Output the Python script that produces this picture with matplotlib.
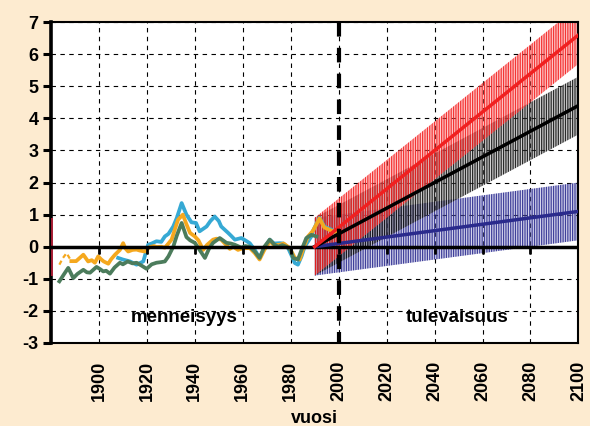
import numpy as np
import matplotlib
matplotlib.use("Agg")
from matplotlib import pyplot as plt

# historical series
orange_dash_years = [1883.5, 1885, 1886.5, 1888.5]
orange_dash_vals = [-0.56, -0.35, -0.2, -0.45]

orange_years = [1888.5, 1890.5, 1892, 1893.5, 1895.5, 1897, 1898.3, 1899.7, 1901, 1902,
                1903.9, 1905, 1906.7, 1908.75, 1910.1, 1911, 1912.2, 1914, 1915.7, 1917,
                1919.2, 1921.25, 1923, 1924, 1926, 1927.5, 1929, 1930.3, 1931.5, 1933,
                1935, 1936.5, 1938, 1940, 1941.5, 1943.5, 1945, 1947.6, 1949, 1951,
                1952.5, 1954.6, 1956, 1958, 1960, 1962.9, 1965, 1967, 1969, 1971.25,
                1973, 1975.4, 1977, 1979.6, 1981.7, 1983.75, 1985.5, 1987.2, 1989.3, 1992,
                1994, 1997, 1999]
orange_vals = [-0.45, -0.45, -0.35, -0.25, -0.46, -0.42, -0.5, -0.3, -0.4, -0.46,
               -0.53, -0.4, -0.25, -0.1, 0.11, -0.05, -0.15, -0.1, -0.09, -0.12,
               -0.15, -0.01, 0.02, -0.01, 0.0, -0.03, 0.1, 0.22, 0.5, 0.84,
               1.0, 0.7, 0.43, 0.32, 0.2, -0.1, 0.05, 0.22, 0.25, 0.22,
               0.1, -0.07, 0.0, -0.1, -0.05, -0.04, -0.2, -0.4, -0.1, 0.17,
               0.05, 0.06, 0.1, -0.04, -0.35, -0.4, 0.0, 0.32, 0.5, 0.88,
               0.6, 0.5, 0.45]

cyan_years = [1908, 1910, 1913, 1915.7, 1918.5, 1920.5, 1922, 1924, 1926, 1927.5,
              1929, 1931, 1932.5, 1934.5, 1936.5, 1938.6, 1940.5, 1942, 1944.9, 1946.5,
              1948.3, 1950, 1951, 1953.9, 1955, 1956.7, 1959.4, 1961, 1962.9, 1965,
              1967, 1969, 1971.25, 1973, 1975.4, 1977, 1978.9, 1980.5, 1981.7, 1983,
              1984.5, 1985.8, 1988.6, 1989.3, 1992, 1994, 1997, 1999]
cyan_vals = [-0.35, -0.4, -0.46, -0.56, -0.46, 0.06, 0.1, 0.17, 0.15, 0.32,
             0.4, 0.63, 0.9, 1.36, 1.0, 0.76, 0.74, 0.48, 0.63, 0.8,
             0.94, 0.8, 0.63, 0.43, 0.35, 0.22, 0.27, 0.2, 0.11, -0.1,
             -0.35, -0.05, 0.22, 0.1, 0.11, 0.1, -0.04, -0.3, -0.51, -0.56,
             -0.3, 0.0, 0.32, 0.5, 0.9, 0.63, 0.53, 0.43]

green_years = [1883.5, 1885.5, 1887.2, 1889.3, 1891, 1893.5, 1895, 1896.3, 1899, 1900.5,
               1901.8, 1903, 1904.6, 1906.5, 1908.75, 1910, 1912, 1914, 1915.7, 1918,
               1919.9, 1922, 1924, 1926, 1927.5, 1929, 1931, 1932.5, 1934.5, 1936.5,
               1938, 1940, 1942, 1944.2, 1946, 1947.6, 1950.4, 1953.2, 1955, 1956.7,
               1959.4, 1961, 1962.9, 1965, 1967, 1969, 1971.25, 1973, 1974.7, 1976.5,
               1978.2, 1980, 1981, 1983, 1984.5, 1986.5, 1988.6, 1990.7]
green_vals = [-1.08, -0.85, -0.66, -0.98, -0.85, -0.72, -0.8, -0.81, -0.63, -0.7,
              -0.77, -0.75, -0.84, -0.65, -0.5, -0.55, -0.46, -0.52, -0.5, -0.6,
              -0.69, -0.55, -0.5, -0.48, -0.46, -0.3, 0.0, 0.35, 0.74, 0.3,
              0.2, 0.12, -0.1, -0.35, -0.05, 0.12, 0.27, 0.12, 0.1, 0.06,
              -0.03, 0.02, 0.0, -0.15, -0.35, 0.0, 0.22, 0.08, 0.0, 0.05,
              0.0, -0.1, -0.35, -0.4, -0.1, 0.27, 0.37, 0.32]

# scenarios 1990 -> 2100
future_years = [1990, 2100]
red_vals = [0.0, 6.6]
black_vals = [0.0, 4.4]
blue_vals = [0.0, 1.1]
spread = 0.9

xticks = [1900, 1920, 1940, 1960, 1980, 2000, 2020, 2040, 2060, 2080, 2100]
yticks = [-3, -2, -1, 0, 1, 2, 3, 4, 5, 6, 7]

BG = "#FDEBD0"
plt.rcParams["font.family"] = ["Liberation Sans", "DejaVu Sans"]
plt.rcParams["font.weight"] = "bold"
plt.rcParams["hatch.linewidth"] = 0.9

fig = plt.figure(figsize=(5.9, 4.26), dpi=100, facecolor=BG)
ax = fig.add_axes([0.0864, 0.195, 0.894, 0.753])
ax.set_facecolor("white")

# grid
for x in xticks:
    ax.axvline(x, color="black", lw=0.8, ls=(0, (4, 4)), zorder=1)
for y in yticks:
    ax.axhline(y, color="black", lw=0.8, ls=(0, (4, 4)), zorder=1)

# uncertainty bands as vertical hatching
fy = np.array(future_years)
bands = [
    (blue_vals, (0.55, 0.55, 0.8, 0.35), (0.15, 0.15, 0.55, 0.85)),
    (black_vals, (0.5, 0.5, 0.5, 0.35), (0.05, 0.05, 0.05, 0.85)),
    (red_vals, (1.0, 0.5, 0.5, 0.4), (0.95, 0.1, 0.1, 0.85)),
]
for vals, face, hatchcol in bands:
    v = np.array(vals)
    ax.fill_between(fy, v - spread, v + spread, facecolor=face, edgecolor=hatchcol,
                    hatch="|||||||", linewidth=0, zorder=2)

# stray bar on the left axis
ax.vlines(1880.3, -0.9, 0.9, color="#C0203A", lw=1.2, zorder=3)

# historical
ax.plot(cyan_years, cyan_vals, color="#36A9D4", lw=2.7, zorder=4)
ax.plot(orange_years, orange_vals, color="#F5A81E", lw=2.7, zorder=5)
ax.plot(orange_dash_years, orange_dash_vals, color="#F5A81E", lw=1.6, ls=(0, (2, 1.5)), zorder=5)
ax.plot(green_years, green_vals, color="#4C7C5C", lw=2.7, zorder=6)

# zero line with tick marks
ax.axhline(0, color="black", lw=2.5, zorder=7)
ax.plot(xticks, [0] * len(xticks), ls="none", marker=3, ms=5, mew=2, color="black", zorder=7)

# scenario lines
ax.plot(future_years, blue_vals, color="#2A2A8C", lw=2.5, zorder=8)
ax.plot(future_years, black_vals, color="black", lw=2.5, zorder=8)
ax.plot(future_years, red_vals, color="#F02020", lw=2.5, zorder=8)

# year 2000 divider
ax.plot([2000, 2000], [7, -3], color="black", lw=3, ls=(0, (3.5, 2.7)), zorder=9)

ax.set_xlim(1880, 2100)
ax.set_ylim(-3, 7)
ax.set_xticks(xticks)
ax.set_xticklabels([str(x) for x in xticks], rotation=90, fontsize=13, fontweight="bold")
ax.set_yticks(yticks)
ax.set_yticklabels([str(y) for y in yticks], fontsize=13, fontweight="bold")
ax.tick_params(axis="x", length=0, pad=13)
ax.tick_params(axis="y", length=6, width=2.2, pad=3, direction="out")

ax.spines["left"].set_linewidth(2.6)
for s in ["top", "right", "bottom"]:
    ax.spines[s].set_linewidth(1.5)

ax.text(1935.5, -2.2, "menneisyys", ha="center", va="center", fontsize=13.5, fontweight="bold", zorder=10)
ax.text(2049.5, -2.2, "tulevaisuus", ha="center", va="center", fontsize=13.5, fontweight="bold", zorder=10)
ax.set_xlabel("vuosi", fontsize=13, fontweight="bold", labelpad=6)

fig.savefig("out.png", dpi=100, facecolor=BG)
